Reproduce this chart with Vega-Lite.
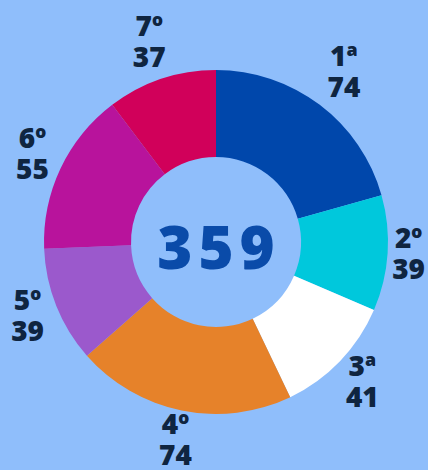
{
  "$schema": "https://vega.github.io/schema/vega-lite/v6.json",
  "width": 424,
  "height": 456,
  "autosize": {"type": "none"},
  "padding": {"left": 4, "top": 14, "right": 0, "bottom": 0},
  "background": "#8fbefb",
  "view": {"stroke": null},
  "data": {
    "values": [
      {"rank": 1, "label": "1ª", "value": 74},
      {"rank": 2, "label": "2º", "value": 39},
      {"rank": 3, "label": "3ª", "value": 41},
      {"rank": 4, "label": "4º", "value": 74},
      {"rank": 5, "label": "5º", "value": 39},
      {"rank": 6, "label": "6º", "value": 55},
      {"rank": 7, "label": "7º", "value": 37}
    ]
  },
  "layer": [
    {
      "mark": {"type": "arc", "innerRadius": 85, "outerRadius": 172},
      "encoding": {
        "theta": {"field": "value", "type": "quantitative", "stack": true},
        "order": {"field": "rank", "type": "quantitative"},
        "color": {
          "field": "label",
          "type": "nominal",
          "sort": ["1ª", "2º", "3ª", "4º", "5º", "6º", "7º"],
          "scale": {
            "domain": ["1ª", "2º", "3ª", "4º", "5º", "6º", "7º"],
            "range": ["#0047ab", "#00c8dc", "#ffffff", "#e6822a", "#9b59cc", "#b8139c", "#d1005a"]
          },
          "legend": null
        }
      }
    },
    {
      "mark": {"type": "text", "radius": {"expr": "datum.rank == 1 ? 212 : datum.rank == 2 ? 193 : datum.rank == 7 ? 210 : 203"}, "dy": -15, "font": "Open Sans", "fontWeight": 800, "fontSize": 28, "color": "#0f2540", "baseline": "middle", "align": "center"},
      "encoding": {
        "theta": {"field": "value", "type": "quantitative", "stack": true},
        "order": {"field": "rank", "type": "quantitative"},
        "text": {"field": "label", "type": "nominal"}
      }
    },
    {
      "mark": {"type": "text", "radius": {"expr": "datum.rank == 1 ? 212 : datum.rank == 2 ? 193 : datum.rank == 7 ? 210 : 203"}, "dy": 16, "font": "Open Sans", "fontWeight": 800, "fontSize": 28, "color": "#0f2540", "baseline": "middle", "align": "center"},
      "encoding": {
        "theta": {"field": "value", "type": "quantitative", "stack": true},
        "order": {"field": "rank", "type": "quantitative"},
        "text": {"field": "value", "type": "quantitative"}
      }
    },
    {
      "data": {"values": [{"total": "3\u200a5\u200a9"}]},
      "mark": {"type": "text", "font": "Open Sans", "fontWeight": 800, "fontSize": 60, "color": "#0a4ba9", "baseline": "middle", "align": "center", "dy": 9},
      "encoding": {
        "text": {"field": "total", "type": "nominal"}
      }
    }
  ]
}
